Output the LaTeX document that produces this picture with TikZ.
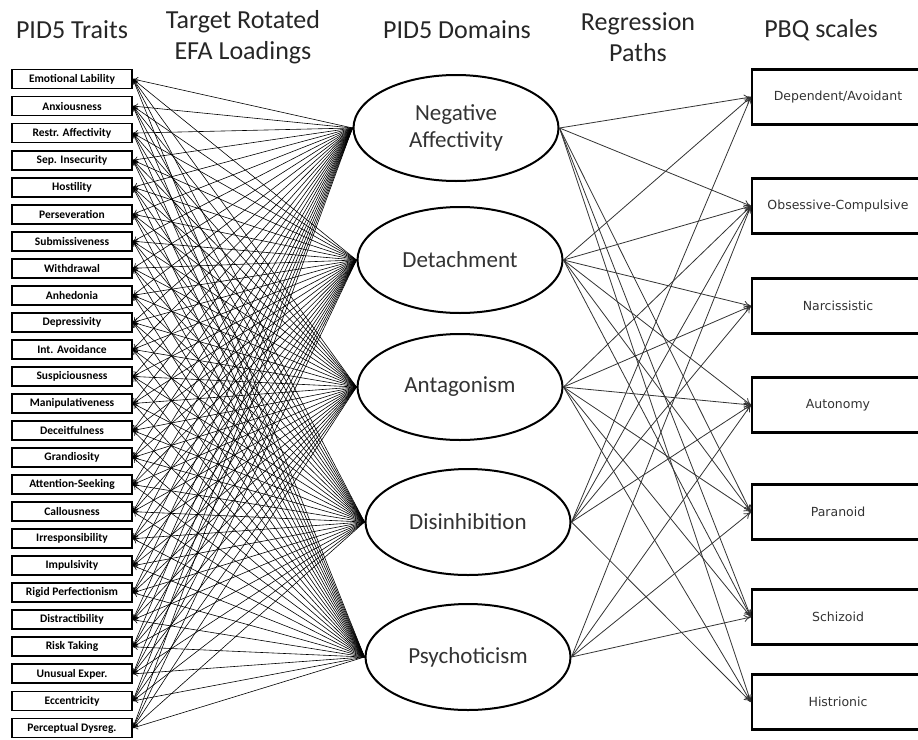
\documentclass[tikz,border=0pt]{standalone}
\usepackage{fontspec}
\setmainfont{Carlito}
\newfontfamily\pbqfont{DejaVu Sans}
\usetikzlibrary{shapes.geometric,arrows.meta}

\tikzset{
  trait/.style={draw, line width=1.8pt, minimum width=120pt, minimum height=19pt,
    inner sep=0pt, font=\fontsize{11.5}{11.5}\selectfont\bfseries},
  pidnode/.style={ellipse, draw, line width=2pt, minimum width=205pt,
    minimum height=106pt, inner sep=0pt, align=center, text=black!80,
    font=\fontsize{23}{27}\selectfont},
  pbq/.style={draw, line width=2.2pt, minimum width=172pt, minimum height=55pt,
    inner sep=0pt, text=black!80, font=\pbqfont\fontsize{12.5}{12.5}\selectfont},
  heading/.style={align=center, text=black!85, font=\fontsize{26}{31}\selectfont},
  loading/.style={-{To[length=5pt,width=6pt]}, line width=0.6pt},
  regpath/.style={-{To[length=7pt,width=7pt]}, line width=0.8pt, black!80},
}

\begin{document}
\begin{tikzpicture}[x=1pt,y=-1pt]
  \useasboundingbox (0,0) rectangle (918,739);

  % headings
  \node[heading] (h1) at (72,30) {PID5 Traits};
  \node[heading] (h2) at (243,37) {Target Rotated\\EFA Loadings};
  \node[heading] (h3) at (457,30) {PID5 Domains};
  \node[heading] (h4) at (638,37) {Regression\\Paths};
  \node[heading] (h5) at (821,30) {PBQ scales};

  % traits
  \foreach \t [count=\i] in {Emotional Lability, Anxiousness, Restr. Affectivity,
      Sep. Insecurity, Hostility, Perseveration, Submissiveness, Withdrawal,
      Anhedonia, Depressivity, Int. Avoidance, Suspiciousness, Manipulativeness,
      Deceitfulness, Grandiosity, Attention-Seeking, Callousness, Irresponsibility,
      Impulsivity, Rigid Perfectionism, Distractibility, Risk Taking,
      Unusual Exper., Eccentricity, Perceptual Dysreg.}
    \node[trait] (t\i) at (72,{79+(\i-1)*27.04}) {\t};

  % domains
  \node[pidnode] (na)  at (456,128) {Negative\\Affectivity};
  \node[pidnode] (det) at (460,260) {Detachment};
  \node[pidnode] (ant) at (460,387) {Antagonism};
  \node[pidnode] (dis) at (468,522) {Disinhibition};
  \node[pidnode] (psy) at (468,657) {Psychoticism};

  % PBQ scales
  \node[pbq] (dep) at (838,97)  {Dependent/Avoidant};
  \node[pbq] (obs) at (838,206) {Obsessive-Compulsive};
  \node[pbq] (nar) at (838,306) {Narcissistic};
  \node[pbq] (aut) at (838,405) {Autonomy};
  \node[pbq] (par) at (838,512) {Paranoid};
  \node[pbq] (sch) at (838,617) {Schizoid};
  \node[pbq] (his) at (838,702) {Histrionic};

  % loadings
  \foreach \d in {na,det,ant,dis,psy}
    \foreach \i in {1,...,25}
      \draw[loading] (\d.west) -- (t\i.east);

  % regression paths
  \foreach \d/\s in {na/dep, na/obs, na/par, na/sch, na/his,
      det/dep, det/obs, det/nar, det/aut, det/par, det/sch,
      ant/obs, ant/nar, ant/aut, ant/par, ant/sch, ant/his,
      dis/dep, dis/obs, dis/nar, dis/aut, dis/his,
      psy/obs, psy/aut, psy/par, psy/sch}
    \draw[regpath] (\d.east) -- (\s.west);
\end{tikzpicture}
\end{document}
